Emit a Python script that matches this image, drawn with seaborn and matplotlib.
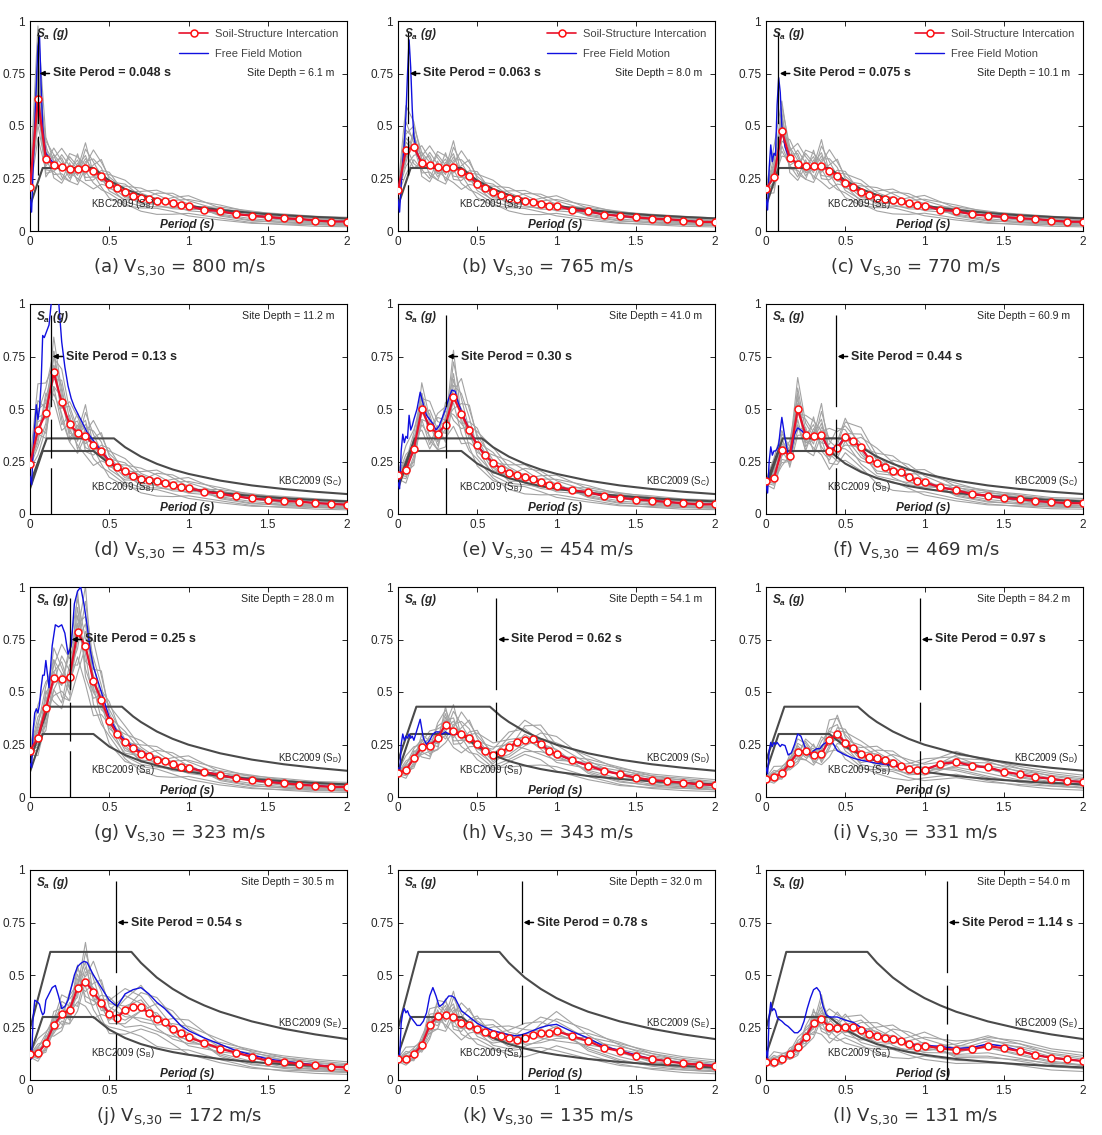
# SSI vs free-field response spectra, 12 sites

import numpy as np
import pandas as pd
import matplotlib
matplotlib.use('Agg')
import matplotlib.pyplot as plt
import seaborn as sns
from matplotlib.lines import Line2D

# periods (s) of the SSI mean markers
period = [0, 0.05, 0.1, 0.15, 0.2, 0.25, 0.3, 0.35, 0.4, 0.45, 0.5, 0.55, 0.6, 0.65, 0.7,
          0.75, 0.8, 0.85, 0.9, 0.95, 1.0, 1.1, 1.2, 1.3, 1.4, 1.5, 1.6, 1.7, 1.8, 1.9, 2.0]

# soil-structure interaction (mean), Sa (g)
ssi_a = [0.21, 0.63, 0.343, 0.316, 0.303, 0.295, 0.294, 0.30, 0.286, 0.262, 0.224, 0.203, 0.186, 0.168, 0.157, 0.151, 0.144, 0.141, 0.133, 0.124, 0.12, 0.10, 0.095, 0.08, 0.073, 0.067, 0.06, 0.057, 0.05, 0.045, 0.045]
ssi_b = [0.194, 0.385, 0.40, 0.325, 0.312, 0.303, 0.298, 0.307, 0.283, 0.261, 0.226, 0.207, 0.186, 0.17, 0.159, 0.153, 0.143, 0.14, 0.13, 0.121, 0.12, 0.10, 0.094, 0.078, 0.072, 0.065, 0.059, 0.056, 0.05, 0.043, 0.043]
ssi_c = [0.198, 0.259, 0.476, 0.348, 0.321, 0.308, 0.308, 0.311, 0.287, 0.263, 0.227, 0.208, 0.187, 0.17, 0.159, 0.152, 0.148, 0.141, 0.132, 0.124, 0.121, 0.10, 0.095, 0.079, 0.073, 0.067, 0.06, 0.057, 0.05, 0.044, 0.044]
ssi_d = [0.238, 0.40, 0.48, 0.674, 0.531, 0.428, 0.385, 0.372, 0.33, 0.298, 0.25, 0.222, 0.203, 0.179, 0.168, 0.163, 0.155, 0.15, 0.138, 0.128, 0.124, 0.106, 0.097, 0.084, 0.074, 0.068, 0.062, 0.059, 0.052, 0.048, 0.044]
ssi_e = [0.187, 0.21, 0.309, 0.50, 0.413, 0.383, 0.426, 0.557, 0.478, 0.399, 0.327, 0.279, 0.244, 0.214, 0.195, 0.187, 0.174, 0.166, 0.152, 0.14, 0.132, 0.112, 0.104, 0.086, 0.078, 0.069, 0.064, 0.057, 0.051, 0.046, 0.046]
ssi_f = [0.156, 0.171, 0.306, 0.278, 0.50, 0.376, 0.37, 0.376, 0.302, 0.314, 0.365, 0.346, 0.317, 0.262, 0.241, 0.225, 0.205, 0.198, 0.175, 0.157, 0.151, 0.127, 0.113, 0.095, 0.087, 0.076, 0.071, 0.062, 0.056, 0.052, 0.051]
ssi_g = [0.22, 0.282, 0.422, 0.568, 0.56, 0.573, 0.785, 0.717, 0.553, 0.462, 0.363, 0.298, 0.26, 0.231, 0.207, 0.197, 0.178, 0.172, 0.156, 0.143, 0.14, 0.119, 0.104, 0.089, 0.08, 0.072, 0.065, 0.059, 0.053, 0.048, 0.048]
ssi_h = [0.116, 0.127, 0.184, 0.238, 0.242, 0.282, 0.345, 0.314, 0.30, 0.282, 0.254, 0.22, 0.198, 0.212, 0.238, 0.26, 0.271, 0.274, 0.254, 0.22, 0.206, 0.174, 0.15, 0.124, 0.109, 0.092, 0.081, 0.074, 0.068, 0.06, 0.057]
ssi_i = [0.087, 0.094, 0.113, 0.161, 0.213, 0.221, 0.202, 0.205, 0.272, 0.30, 0.258, 0.231, 0.205, 0.189, 0.186, 0.176, 0.162, 0.146, 0.132, 0.129, 0.13, 0.157, 0.167, 0.148, 0.141, 0.121, 0.108, 0.095, 0.086, 0.076, 0.072]
ssi_j = [0.122, 0.127, 0.176, 0.261, 0.312, 0.335, 0.438, 0.468, 0.419, 0.367, 0.316, 0.296, 0.335, 0.348, 0.347, 0.32, 0.291, 0.277, 0.244, 0.222, 0.204, 0.177, 0.149, 0.13, 0.111, 0.092, 0.085, 0.076, 0.07, 0.063, 0.06]
ssi_k = [0.098, 0.101, 0.122, 0.166, 0.261, 0.304, 0.309, 0.302, 0.272, 0.263, 0.244, 0.229, 0.22, 0.209, 0.198, 0.191, 0.20, 0.212, 0.222, 0.225, 0.233, 0.209, 0.185, 0.153, 0.138, 0.114, 0.101, 0.089, 0.079, 0.073, 0.066]
ssi_l = [0.087, 0.087, 0.098, 0.122, 0.156, 0.206, 0.27, 0.29, 0.251, 0.249, 0.251, 0.252, 0.238, 0.217, 0.21, 0.198, 0.194, 0.187, 0.17, 0.159, 0.163, 0.151, 0.143, 0.146, 0.162, 0.151, 0.138, 0.119, 0.106, 0.098, 0.09]

# free field motion, finer period grid
ffm_period = [0, 0.01, 0.02, 0.03, 0.04, 0.05, 0.06, 0.07, 0.08, 0.09, 0.1,
              0.12, 0.14, 0.16, 0.18, 0.2, 0.22, 0.24, 0.26, 0.28, 0.3, 0.32, 0.34, 0.36, 0.38, 0.4,
              0.45, 0.5, 0.55, 0.6, 0.65, 0.7, 0.75, 0.8, 0.85, 0.9, 0.95, 1.0,
              1.1, 1.2, 1.3, 1.4, 1.5, 1.6, 1.7, 1.8, 1.9, 2.0]
ffm_a = [0.15, 0.09, 0.30, 0.50, 0.70, 0.88, 0.93, 0.70, 0.50, 0.42, 0.37, 0.35, 0.33, 0.32, 0.31, 0.30, 0.30, 0.295, 0.295, 0.295, 0.295, 0.297, 0.30, 0.295, 0.29, 0.285, 0.262, 0.225, 0.203, 0.186, 0.168, 0.157, 0.151, 0.144, 0.141, 0.133, 0.124, 0.12, 0.10, 0.095, 0.08, 0.073, 0.067, 0.06, 0.057, 0.05, 0.046, 0.045]
ffm_b = [0.15, 0.09, 0.22, 0.33, 0.42, 0.55, 0.75, 0.91, 0.78, 0.58, 0.45, 0.37, 0.335, 0.32, 0.315, 0.31, 0.305, 0.30, 0.30, 0.30, 0.298, 0.30, 0.305, 0.305, 0.295, 0.283, 0.261, 0.226, 0.207, 0.186, 0.17, 0.159, 0.153, 0.143, 0.14, 0.13, 0.121, 0.12, 0.10, 0.094, 0.078, 0.072, 0.065, 0.059, 0.056, 0.05, 0.044, 0.043]
ffm_c = [0.15, 0.10, 0.30, 0.41, 0.33, 0.37, 0.36, 0.60, 0.73, 0.66, 0.50, 0.40, 0.36, 0.34, 0.33, 0.32, 0.315, 0.31, 0.308, 0.308, 0.308, 0.31, 0.311, 0.305, 0.295, 0.287, 0.263, 0.227, 0.208, 0.187, 0.17, 0.159, 0.152, 0.148, 0.141, 0.132, 0.124, 0.121, 0.10, 0.095, 0.079, 0.073, 0.067, 0.06, 0.057, 0.05, 0.045, 0.044]
ffm_d = [0.18, 0.14, 0.30, 0.42, 0.52, 0.45, 0.50, 0.62, 0.85, 0.84, 0.86, 0.90, 1.05, 1.10, 1.02, 0.82, 0.70, 0.61, 0.55, 0.51, 0.48, 0.45, 0.42, 0.39, 0.37, 0.35, 0.30, 0.255, 0.224, 0.204, 0.18, 0.169, 0.163, 0.155, 0.15, 0.138, 0.128, 0.124, 0.106, 0.097, 0.084, 0.074, 0.068, 0.062, 0.059, 0.052, 0.048, 0.044]
ffm_e = [0.15, 0.12, 0.30, 0.38, 0.34, 0.37, 0.36, 0.47, 0.40, 0.42, 0.45, 0.50, 0.58, 0.52, 0.47, 0.45, 0.43, 0.40, 0.42, 0.46, 0.50, 0.55, 0.59, 0.585, 0.53, 0.49, 0.40, 0.33, 0.28, 0.245, 0.215, 0.196, 0.188, 0.175, 0.167, 0.153, 0.141, 0.133, 0.112, 0.104, 0.086, 0.078, 0.069, 0.064, 0.057, 0.051, 0.046, 0.046]
ffm_f = [0.14, 0.10, 0.25, 0.32, 0.28, 0.30, 0.30, 0.31, 0.33, 0.40, 0.46, 0.36, 0.28, 0.30, 0.38, 0.41, 0.40, 0.385, 0.375, 0.37, 0.37, 0.37, 0.37, 0.36, 0.33, 0.31, 0.32, 0.37, 0.35, 0.317, 0.262, 0.241, 0.225, 0.205, 0.198, 0.175, 0.157, 0.151, 0.127, 0.113, 0.095, 0.087, 0.076, 0.071, 0.062, 0.056, 0.052, 0.051]
ffm_g = [0.16, 0.14, 0.32, 0.40, 0.42, 0.40, 0.44, 0.52, 0.58, 0.58, 0.65, 0.52, 0.72, 0.82, 0.81, 0.82, 0.78, 0.68, 0.72, 0.92, 0.98, 1.0, 0.92, 0.82, 0.70, 0.62, 0.50, 0.38, 0.31, 0.27, 0.24, 0.215, 0.20, 0.182, 0.175, 0.158, 0.145, 0.142, 0.12, 0.105, 0.09, 0.081, 0.073, 0.066, 0.06, 0.054, 0.049, 0.048]
ffm_h = [0.14, 0.10, 0.25, 0.30, 0.27, 0.29, 0.28, 0.30, 0.28, 0.29, 0.27, 0.32, 0.37, 0.28, 0.25, 0.27, 0.30, 0.31, 0.31, 0.30, 0.31, 0.30, 0.30, 0.30, 0.30, 0.30, 0.282, 0.254, 0.22, 0.198, 0.212, 0.238, 0.26, 0.271, 0.28, 0.26, 0.22, 0.206, 0.174, 0.15, 0.124, 0.109, 0.092, 0.081, 0.074, 0.068, 0.06, 0.057]
ffm_i = [0.14, 0.11, 0.22, 0.26, 0.24, 0.26, 0.25, 0.26, 0.25, 0.24, 0.25, 0.245, 0.20, 0.21, 0.25, 0.30, 0.29, 0.25, 0.21, 0.20, 0.22, 0.23, 0.23, 0.25, 0.26, 0.285, 0.22, 0.20, 0.185, 0.175, 0.168, 0.16, 0.155, 0.15, 0.145, 0.135, 0.13, 0.13, 0.157, 0.167, 0.148, 0.141, 0.121, 0.108, 0.095, 0.086, 0.076, 0.072]
ffm_j = [0.12, 0.10, 0.30, 0.38, 0.375, 0.37, 0.36, 0.33, 0.31, 0.32, 0.38, 0.41, 0.44, 0.45, 0.40, 0.34, 0.35, 0.38, 0.44, 0.50, 0.54, 0.555, 0.565, 0.56, 0.53, 0.50, 0.44, 0.38, 0.35, 0.41, 0.43, 0.44, 0.41, 0.37, 0.34, 0.30, 0.26, 0.235, 0.20, 0.17, 0.14, 0.12, 0.10, 0.09, 0.08, 0.072, 0.065, 0.06]
ffm_k = [0.12, 0.11, 0.27, 0.32, 0.34, 0.32, 0.33, 0.31, 0.30, 0.29, 0.28, 0.26, 0.26, 0.28, 0.32, 0.40, 0.44, 0.40, 0.35, 0.36, 0.38, 0.40, 0.40, 0.39, 0.36, 0.33, 0.30, 0.27, 0.25, 0.235, 0.225, 0.215, 0.21, 0.22, 0.235, 0.25, 0.26, 0.265, 0.23, 0.20, 0.16, 0.14, 0.12, 0.10, 0.09, 0.08, 0.074, 0.07]
ffm_l = [0.14, 0.10, 0.30, 0.37, 0.33, 0.34, 0.33, 0.30, 0.29, 0.285, 0.28, 0.265, 0.255, 0.24, 0.225, 0.225, 0.24, 0.28, 0.34, 0.39, 0.43, 0.44, 0.42, 0.35, 0.31, 0.30, 0.30, 0.285, 0.275, 0.25, 0.225, 0.215, 0.205, 0.20, 0.19, 0.175, 0.165, 0.165, 0.16, 0.15, 0.155, 0.172, 0.16, 0.14, 0.12, 0.105, 0.098, 0.09]

# individual records (gray), read roughly as ratio to the SSI mean
rec_period = [0, 0.05, 0.1, 0.15, 0.2, 0.25, 0.3, 0.35, 0.4, 0.45, 0.5, 0.6, 0.7, 0.8, 0.9, 1.0, 1.2, 1.4, 1.6, 1.8, 2.0]
rec_ratio = [
    [1.00, 1.25, 1.10, 0.95, 1.20, 1.05, 0.90, 1.30, 1.15, 1.00, 0.85, 0.80, 0.95, 1.25, 1.35, 1.20, 1.05, 0.95, 0.90, 0.85, 0.80],
    [0.95, 0.80, 0.90, 1.15, 0.85, 0.80, 1.10, 0.95, 0.80, 0.75, 0.80, 0.70, 0.60, 0.55, 0.60, 0.70, 0.65, 0.55, 0.50, 0.45, 0.45],
    [1.05, 1.55, 1.30, 1.05, 0.95, 1.25, 1.20, 1.05, 1.35, 1.25, 1.15, 1.05, 1.10, 1.00, 0.95, 0.90, 1.00, 1.15, 1.25, 1.30, 1.30],
    [0.90, 0.70, 0.85, 0.90, 1.05, 0.95, 0.85, 0.75, 0.70, 0.85, 0.95, 1.15, 1.30, 1.20, 1.05, 0.95, 0.85, 0.80, 0.75, 0.70, 0.65],
    [1.10, 1.10, 0.95, 1.25, 1.10, 0.90, 0.95, 1.15, 1.00, 0.90, 1.05, 1.20, 1.05, 0.85, 0.80, 0.85, 1.10, 1.25, 1.35, 1.40, 1.45],
    [0.95, 0.90, 1.20, 0.80, 0.75, 1.00, 1.15, 0.85, 0.90, 1.10, 1.25, 0.95, 0.80, 0.90, 1.10, 1.25, 1.30, 1.20, 1.10, 1.05, 1.00],
    [1.00, 1.35, 1.05, 1.10, 1.30, 1.15, 1.00, 1.40, 0.95, 0.80, 0.70, 0.65, 0.70, 0.75, 0.70, 0.60, 0.55, 0.50, 0.55, 0.60, 0.60],
    [1.05, 0.95, 0.75, 1.00, 0.95, 1.20, 1.05, 0.90, 1.10, 1.30, 1.10, 0.90, 0.85, 0.95, 1.20, 1.40, 1.15, 0.95, 0.85, 0.80, 0.75],
    [0.90, 1.15, 1.00, 0.85, 0.90, 0.80, 0.75, 1.00, 1.05, 0.95, 0.90, 1.00, 1.20, 1.35, 1.25, 1.05, 0.80, 0.70, 0.65, 0.62, 0.60],
    [1.00, 0.85, 1.15, 1.05, 1.15, 0.90, 1.25, 0.80, 0.85, 1.05, 1.20, 1.30, 1.15, 1.05, 0.90, 0.80, 0.90, 1.05, 1.15, 1.20, 1.20],
    [1.02, 1.05, 0.80, 0.90, 0.80, 1.10, 0.80, 1.10, 1.20, 1.15, 0.95, 0.75, 0.75, 0.80, 0.85, 0.95, 1.20, 1.30, 1.25, 1.15, 1.10],
    [0.98, 1.20, 1.25, 1.15, 1.05, 0.85, 1.05, 1.20, 0.90, 0.95, 1.00, 0.85, 0.95, 1.10, 1.00, 1.10, 0.75, 0.65, 0.70, 0.75, 0.80],
]

# KBC2009 design spectra
kbc_sb_t = [0, 0.08, 0.4, 0.5, 0.6, 0.7, 0.8, 0.9, 1.0, 1.2, 1.4, 1.6, 1.8, 2.0]
kbc_sb_sa = [0.12, 0.30, 0.30, 0.24, 0.20, 0.171, 0.15, 0.133, 0.12, 0.10, 0.086, 0.075, 0.067, 0.06]
kbc_sc_t = [0, 0.106, 0.53, 0.6, 0.7, 0.8, 0.9, 1.0, 1.2, 1.4, 1.6, 1.8, 2.0]
kbc_sc_sa = [0.144, 0.36, 0.36, 0.318, 0.273, 0.239, 0.212, 0.191, 0.159, 0.136, 0.119, 0.106, 0.095]
kbc_sd_t = [0, 0.116, 0.58, 0.65, 0.7, 0.8, 0.9, 1.0, 1.2, 1.4, 1.6, 1.8, 2.0]
kbc_sd_sa = [0.172, 0.43, 0.43, 0.384, 0.357, 0.312, 0.277, 0.249, 0.208, 0.178, 0.156, 0.139, 0.125]
kbc_se_t = [0, 0.128, 0.64, 0.7, 0.8, 0.9, 1.0, 1.1, 1.2, 1.4, 1.6, 1.8, 2.0]
kbc_se_sa = [0.244, 0.61, 0.61, 0.558, 0.488, 0.434, 0.39, 0.355, 0.325, 0.279, 0.244, 0.217, 0.195]

letters = ['a', 'b', 'c', 'd', 'e', 'f', 'g', 'h', 'i', 'j', 'k', 'l']
vs30 = [800, 765, 770, 453, 454, 469, 323, 343, 331, 172, 135, 131]
site_period = [0.048, 0.063, 0.075, 0.13, 0.30, 0.44, 0.25, 0.62, 0.97, 0.54, 0.78, 1.14]
site_period_txt = ['0.048', '0.063', '0.075', '0.13', '0.30', '0.44', '0.25', '0.62', '0.97', '0.54', '0.78', '1.14']
site_depth = ['6.1', '8.0', '10.1', '11.2', '41.0', '60.9', '28.0', '54.1', '84.2', '30.5', '32.0', '54.0']
site_class = [None, None, None, 'C', 'C', 'C', 'D', 'D', 'D', 'E', 'E', 'E']

ssi_all = [ssi_a, ssi_b, ssi_c, ssi_d, ssi_e, ssi_f, ssi_g, ssi_h, ssi_i, ssi_j, ssi_k, ssi_l]
ffm_all = [ffm_a, ffm_b, ffm_c, ffm_d, ffm_e, ffm_f, ffm_g, ffm_h, ffm_i, ffm_j, ffm_k, ffm_l]
kbc_curves = {'C': (kbc_sc_t, kbc_sc_sa, 0.155), 'D': (kbc_sd_t, kbc_sd_sa, 0.186),
              'E': (kbc_se_t, kbc_se_sa, 0.272)}

sns.set_style('ticks')
plt.rcParams['font.family'] = ['Liberation Sans', 'DejaVu Sans']
plt.rcParams['lines.scale_dashes'] = False

RED = '#e8102a'
BLUE = '#1010e0'
GRAY = '#a3a3a3'
KBC = '#4a4a4a'

W, H = 1102, 1135
fig = plt.figure(figsize=(W / 100, H / 100), dpi=100)

col_left = [30, 398, 766]
row_bottom = [231, 514, 797, 1080]
ax_w, ax_h = 317, 210

for i in range(12):
    r, c = divmod(i, 3)
    ax = fig.add_axes([col_left[c] / W, 1 - row_bottom[r] / H, ax_w / W, ax_h / H])
    ssi = ssi_all[i]

    # gray individual records
    lookup = dict(zip(period, ssi))
    rows = []
    for k, ratio in enumerate(rec_ratio):
        for t, q in zip(rec_period, ratio):
            rows.append((k, t, lookup[t] * q))
    rec_df = pd.DataFrame(rows, columns=['rec', 'T', 'Sa'])
    sns.lineplot(data=rec_df, x='T', y='Sa', units='rec', estimator=None,
                 color=GRAY, lw=0.8, ax=ax, zorder=1, legend=False)

    # design spectra
    sns.lineplot(x=kbc_sb_t, y=kbc_sb_sa, color=KBC, lw=1.5, ax=ax, zorder=2)
    ax.text(0.385, 0.13, r'KBC2009 (S$_\mathregular{B}$)', fontsize=7, ha='left', va='center', zorder=6)
    if site_class[i]:
        kt, ks, ly = kbc_curves[site_class[i]]
        sns.lineplot(x=kt, y=ks, color=KBC, lw=1.5, ax=ax, zorder=2)
        ax.text(1.97, ly, r'KBC2009 (S$_\mathregular{%s}$)' % site_class[i], fontsize=7,
                ha='right', va='center', zorder=6)

    # free field and SSI mean
    sns.lineplot(x=ffm_period, y=ffm_all[i], color=BLUE, lw=1.0, ax=ax, zorder=3)
    sns.lineplot(x=period, y=ssi, color=RED, lw=1.6, marker='o', markersize=5,
                 markerfacecolor='white', markeredgecolor='#ff1010', markeredgewidth=1.1,
                 ax=ax, zorder=4)

    # site period line + arrow label
    tp = site_period[i]
    ax.plot([tp, tp], [0.95, 0.0], color='k', lw=0.9, ls=(0, (66, 9, 28, 7)), zorder=5)
    ax.annotate('', xy=(tp + 0.012, 0.75), xytext=(tp + 0.075, 0.75),
                arrowprops=dict(arrowstyle='-|>', color='k', lw=1.1, mutation_scale=7,
                                shrinkA=0, shrinkB=0), zorder=6)
    ax.text(tp + 0.095, 0.75, 'Site Perod = %s s' % site_period_txt[i], fontsize=9,
            fontweight='bold', ha='left', va='center', zorder=6)

    depth_y = 0.75 if r == 0 else 0.945
    ax.text(1.92, depth_y, 'Site Depth = %s m' % site_depth[i], fontsize=7.6,
            ha='right', va='center', zorder=6)
    ax.text(0.04, 0.94, r'$\mathregular{S_a}$ (g)', fontsize=8.5, fontweight='bold',
            fontstyle='italic', ha='left', va='center', zorder=6)
    ax.text(0.99, 0.03, 'Period (s)', fontsize=8.5, fontweight='bold',
            fontstyle='italic', ha='center', va='center', zorder=6)

    if r == 0:
        handles = [Line2D([], [], color=RED, lw=1.2, marker='o', markersize=5,
                          markerfacecolor='white', markeredgecolor='#ff1010', markeredgewidth=1.1),
                   Line2D([], [], color=BLUE, lw=1.0)]
        ax.legend(handles, ['Soil-Structure Intercation', 'Free Field Motion'],
                  loc='upper right', bbox_to_anchor=(1.0, 1.005), frameon=False, fontsize=8,
                  handlelength=2.6, handletextpad=0.6, labelcolor='#444444',
                  borderaxespad=0.4, labelspacing=0.9)

    ax.set_xlim(0, 2)
    ax.set_ylim(0, 1)
    ax.set_xticks([0, 0.5, 1, 1.5, 2])
    ax.set_xticklabels(['0', '0.5', '1', '1.5', '2'])
    ax.set_yticks([0, 0.25, 0.5, 0.75, 1])
    ax.set_yticklabels(['0', '0.25', '0.5', '0.75', '1'])
    ax.set_xlabel('')
    ax.set_ylabel('')
    ax.tick_params(direction='in', top=True, right=True, length=3.5, width=0.7,
                   labelsize=8.5, pad=3.5)
    for s in ax.spines.values():
        s.set_linewidth(0.8)
        s.set_color('black')

    # caption under the panel
    cx = (col_left[c] + ax_w / 2 - 9) / W
    cy = 1 - (row_bottom[r] + 36) / H
    fig.text(cx, cy, r'(%s) V$_{\mathregular{S{,}30}}$ = %d m/s' % (letters[i], vs30[i]),
             fontsize=13, ha='center', va='center', color='#333333', family='DejaVu Sans')

plt.savefig('out.png', dpi=100)
plt.close()
